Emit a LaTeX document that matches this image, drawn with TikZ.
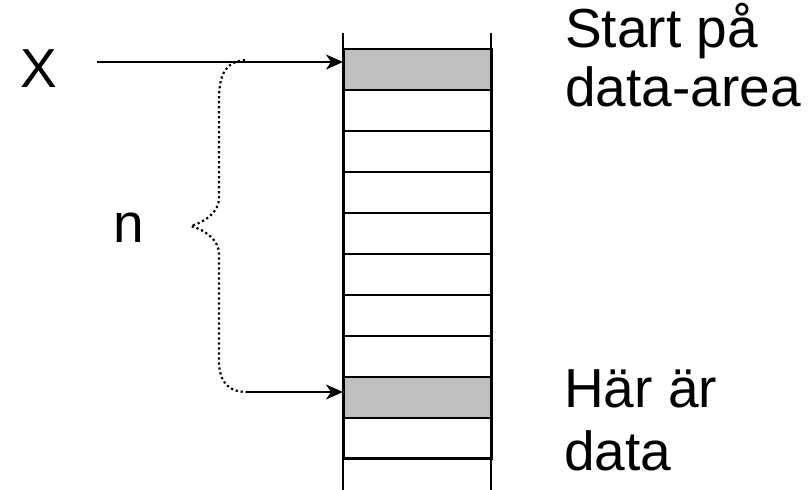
\documentclass[tikz,border=0pt]{standalone}
\usepackage{fontspec}
\setmainfont{Liberation Sans}
\usetikzlibrary{arrows.meta}
\begin{document}
\begin{tikzpicture}[x=1pt,y=-1pt,
  lbl/.style={anchor=base west,inner sep=0pt,font=\fontsize{55}{60}\selectfont},
  cell/.style={draw=black,line width=1.5pt,minimum width=148pt,minimum height=41pt,inner sep=0pt,anchor=north west},
  graycell/.style={cell,fill=black!25},
  rule/.style={line width=1.5pt},
  arr/.style={line width=1.6pt,-{Stealth[length=17pt,width=15pt,inset=5pt]}},
  bracepath/.style={line width=2.2pt,dash pattern=on 2.2pt off 2.8pt}]
\useasboundingbox (0,0) rectangle (812,490);

% memory column: cells stacked under the first one
\node[graycell] (c0) at (343,48) {};
\foreach \k in {1,...,7}{
  \node[cell] (c\k) at (343,48+41*\k) {};
}
\node[graycell] (c8) at (343,376) {};
\node[cell] (c9) at (343,417) {};
% side rails of the column
\draw[rule] (343,33) -- (343,490) (491,33) -- (491,490);
\draw[rule] (343,458) -- (491,458);

% labels
\node[lbl] (x) at (20,87) {X};
\node[lbl] (n) at (113,242) {n};
\node[lbl] (s1) at (565,47) {Start på};
\node[lbl] (s2) at (565,106) {data-area};
\node[lbl] (h1) at (564,407) {Här är};
\node[lbl] (h2) at (564,470) {data};

% pointer arrows
\coordinate (xs) at (97,62);
\coordinate (ds) at (247,392);
\draw[arr] (xs) -- (xs -| c0.west);
\draw[arr] (ds) -- (ds -| c8.west);

% dotted brace spanning n cells
\coordinate (bt) at (245,60);
\coordinate (tip) at (191,226);
\draw[bracepath] (bt) .. controls (225,62) and (219,75) .. (219,100)
  -- (219,198) .. controls (219,212) and (205,222) .. (tip)
  .. controls (205,230) and (219,240) .. (219,254)
  -- (219,360) .. controls (219,382) and (228,392) .. (ds);
\end{tikzpicture}
\end{document}
